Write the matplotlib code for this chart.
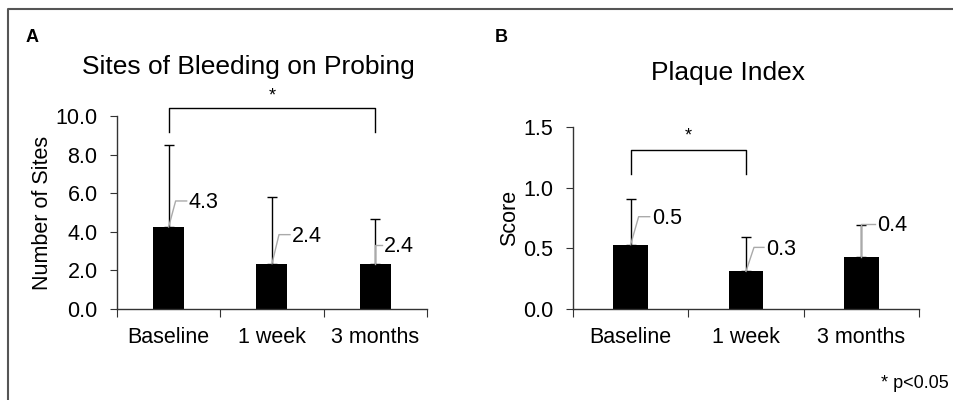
import matplotlib
matplotlib.use("Agg")
import matplotlib.pyplot as plt
import matplotlib.transforms as mtransforms
from matplotlib.lines import Line2D

plt.rcParams['font.family'] = ['Liberation Sans', 'DejaVu Sans']

categories = ["Baseline", "1 week", "3 months"]

bop_means = [4.25, 2.35, 2.35]
bop_err = [4.23, 3.47, 2.33]
bop_labels = ["4.3", "2.4", "2.4"]

pi_means = [0.53, 0.31, 0.43]
pi_err = [0.38, 0.28, 0.26]
pi_labels = ["0.5", "0.3", "0.4"]

# leader offsets in pixels: (x of bend, y of bend/text, x of text)
bop_leaders = [(7, 26, 20), (7, 29, 20), (0, 19, 9)]
pi_leaders = [(8, 28, 21), (8, 24, 20), (0, 33, 16)]

FS = 15.5
fig = plt.figure(figsize=(9.54, 4.0), dpi=100)


def panel(rect, means, errs, labels, leaders, ylim, yticks, ylabel, title, title_xy, letter, letter_x, bracket, star_y):
    ax = fig.add_axes(rect)
    x = range(len(categories))
    ax.bar(x, means, width=0.3, color='black', zorder=2)
    ax.errorbar(x, means, yerr=[[0] * len(means), errs], fmt='none', ecolor='black',
                elinewidth=1, capsize=3.5, capthick=1, zorder=3)
    ax.set_xlim(-0.5, 2.5)
    ax.set_ylim(*ylim)
    ax.set_yticks(yticks)
    ax.set_yticklabels([f"{t:.1f}" for t in yticks], fontsize=FS)
    ax.set_xticks([-0.5, 0.5, 1.5, 2.5])
    ax.set_xticklabels([])
    ax.set_xticks(list(x), minor=True)
    ax.set_xticklabels(categories, minor=True, fontsize=FS)
    ax.tick_params(axis='x', which='minor', length=0, pad=13)
    ax.tick_params(axis='x', which='major', length=6, direction='out', color='#333333')
    ax.tick_params(axis='y', length=5, direction='out', color='#333333', pad=9)
    for s in ['top', 'right']:
        ax.spines[s].set_visible(False)
    for s in ['left', 'bottom']:
        ax.spines[s].set_color('#333333')
        ax.spines[s].set_linewidth(1)
    ax.set_ylabel(ylabel, fontsize=FS, labelpad=2)

    # data labels with leader lines
    for i, (m, lab, (bx, by, tx)) in enumerate(zip(means, labels, leaders)):
        tr = fig.dpi_scale_trans + mtransforms.ScaledTranslation(i, m, ax.transData)
        ax.add_line(Line2D([0, bx / 100, (tx - 2) / 100], [0, by / 100, by / 100],
                           transform=tr, color='#aaaaaa', lw=1, zorder=4, clip_on=False))
        ax.text(tx / 100, (by - 2) / 100, lab, transform=tr, fontsize=FS, va='center', ha='left')

    # significance bracket
    (i0, i1), ylo, yhi = bracket
    ax.plot([i0, i0, i1, i1], [ylo, yhi, yhi, ylo], color='black', lw=1, clip_on=False)
    ax.text((i0 + i1) / 2, star_y, "*", ha='center', va='center', fontsize=13)

    fig.text(title_xy[0], title_xy[1], title, ha='center', va='center', fontsize=19)
    fig.text(letter_x, 0.905, letter, ha='left', va='center', fontsize=13, fontweight='bold')
    return ax


panel([0.1226, 0.2275, 0.325, 0.4825], bop_means, bop_err, bop_labels, bop_leaders,
      (0, 10), [0, 2, 4, 6, 8, 10], "Number of Sites", "Sites of Bleeding on Probing",
      (0.2605, 0.832), "A", 0.027, ((0, 2), 9.15, 10.4), 11.05)
panel([0.6006, 0.2275, 0.3627, 0.455], pi_means, pi_err, pi_labels, pi_leaders,
      (0, 1.5), [0, 0.5, 1.0, 1.5], "Score", "Plaque Index",
      (0.763, 0.818), "B", 0.519, ((0, 1), 1.11, 1.31), 1.43)

fig.text(0.995, 0.042, "* p<0.05", ha='right', va='center', fontsize=13)

# figure frame (top and left)
fig.add_artist(Line2D([8.5 / 954, 8.5 / 954, 1.0], [0.0, 1 - 9 / 400, 1 - 9 / 400],
                      transform=fig.transFigure, color='#555555', lw=1.5))

fig.savefig("out.png", dpi=100)
